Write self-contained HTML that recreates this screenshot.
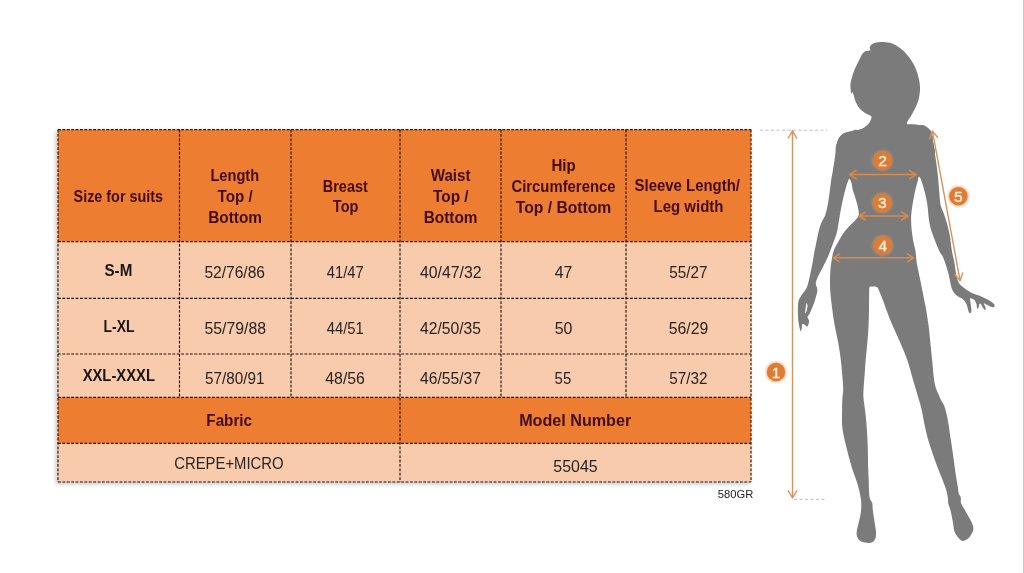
<!DOCTYPE html>
<html><head><meta charset="utf-8"><title>Size chart</title>
<style>html,body{margin:0;padding:0;background:#fff;}body{width:1024px;height:573px;overflow:hidden;}svg{display:block;}</style></head>
<body>
<svg width="1024" height="573" viewBox="0 0 1024 573">
<defs><filter id="sh" x="-5%" y="-5%" width="110%" height="110%"><feGaussianBlur stdDeviation="2.2"/></filter><filter id="gl" x="-50%" y="-50%" width="200%" height="200%"><feGaussianBlur stdDeviation="1.1"/></filter></defs>
<rect width="1024" height="573" fill="#ffffff"/>
<rect x="1023" y="0" width="1" height="573" fill="#c6c6c6"/>
<rect x="56" y="131" width="694" height="353" fill="#9a8f88" opacity="0.55" filter="url(#sh)"/>
<rect x="58.0" y="129.6" width="693.0" height="112.0" fill="#ED7D31"/>
<rect x="58.0" y="241.6" width="693.0" height="155.8" fill="#F8CBAD"/>
<rect x="58.0" y="397.4" width="693.0" height="46.0" fill="#ED7D31"/>
<rect x="58.0" y="443.4" width="693.0" height="38.6" fill="#F8CBAD"/>
<g stroke="#24140e" stroke-width="1.15" stroke-dasharray="2.8 1.6" fill="none">
<line x1="58.0" y1="129.6" x2="751.0" y2="129.6"/>
<line x1="58.0" y1="241.6" x2="751.0" y2="241.6"/>
<line x1="58.0" y1="298.4" x2="751.0" y2="298.4"/>
<line x1="58.0" y1="354.0" x2="751.0" y2="354.0"/>
<line x1="58.0" y1="397.4" x2="751.0" y2="397.4"/>
<line x1="58.0" y1="443.4" x2="751.0" y2="443.4"/>
<line x1="58.0" y1="482.0" x2="751.0" y2="482.0"/>
<line x1="58.0" y1="129.6" x2="58.0" y2="482.0"/>
<line x1="179.5" y1="129.6" x2="179.5" y2="397.4"/>
<line x1="291.0" y1="129.6" x2="291.0" y2="397.4"/>
<line x1="400.0" y1="129.6" x2="400.0" y2="482.0"/>
<line x1="501.0" y1="129.6" x2="501.0" y2="397.4"/>
<line x1="626.0" y1="129.6" x2="626.0" y2="397.4"/>
<line x1="751.0" y1="129.6" x2="751.0" y2="482.0"/>
</g>
<g font-family="'Liberation Sans', sans-serif" text-anchor="middle">
<text x="118.3" y="201.6" font-size="15.6" font-weight="700" fill="#420d19" textLength="89.5" lengthAdjust="spacingAndGlyphs">Size for suits</text>
<text x="234.8" y="180.9" font-size="15.6" font-weight="700" fill="#420d19" textLength="48.7" lengthAdjust="spacingAndGlyphs">Length</text>
<text x="235.1" y="202.0" font-size="15.6" font-weight="700" fill="#420d19" textLength="35.1" lengthAdjust="spacingAndGlyphs">Top /</text>
<text x="235.1" y="222.6" font-size="15.6" font-weight="700" fill="#420d19" textLength="53.9" lengthAdjust="spacingAndGlyphs">Bottom</text>
<text x="345.3" y="191.5" font-size="15.6" font-weight="700" fill="#420d19" textLength="45.0" lengthAdjust="spacingAndGlyphs">Breast</text>
<text x="345.6" y="212.1" font-size="15.6" font-weight="700" fill="#420d19" textLength="25.5" lengthAdjust="spacingAndGlyphs">Top</text>
<text x="450.6" y="180.9" font-size="15.6" font-weight="700" fill="#420d19" textLength="39.9" lengthAdjust="spacingAndGlyphs">Waist</text>
<text x="450.8" y="202.0" font-size="15.6" font-weight="700" fill="#420d19" textLength="35.6" lengthAdjust="spacingAndGlyphs">Top /</text>
<text x="450.6" y="222.6" font-size="15.6" font-weight="700" fill="#420d19" textLength="53.9" lengthAdjust="spacingAndGlyphs">Bottom</text>
<text x="563.6" y="171.0" font-size="15.6" font-weight="700" fill="#420d19" textLength="24.2" lengthAdjust="spacingAndGlyphs">Hip</text>
<text x="563.5" y="191.8" font-size="15.6" font-weight="700" fill="#420d19" textLength="104.1" lengthAdjust="spacingAndGlyphs">Circumference</text>
<text x="563.5" y="212.6" font-size="15.6" font-weight="700" fill="#420d19" textLength="95.5" lengthAdjust="spacingAndGlyphs">Top / Bottom</text>
<text x="687.3" y="191.2" font-size="15.6" font-weight="700" fill="#420d19" textLength="105.4" lengthAdjust="spacingAndGlyphs">Sleeve Length/</text>
<text x="688.5" y="211.9" font-size="15.6" font-weight="700" fill="#420d19" textLength="69.9" lengthAdjust="spacingAndGlyphs">Leg width</text>
<text x="229.2" y="425.6" font-size="15.6" font-weight="700" fill="#420d19" textLength="45.7" lengthAdjust="spacingAndGlyphs">Fabric</text>
<text x="575.2" y="425.6" font-size="15.6" font-weight="700" fill="#420d19" textLength="112.1" lengthAdjust="spacingAndGlyphs">Model Number</text>
<text x="118.4" y="275.8" font-size="16.5" font-weight="700" fill="#1c1514" textLength="27.8" lengthAdjust="spacingAndGlyphs">S-M</text>
<text x="119.0" y="332.0" font-size="16.5" font-weight="700" fill="#1c1514" textLength="30.9" lengthAdjust="spacingAndGlyphs">L-XL</text>
<text x="118.8" y="381.4" font-size="16.5" font-weight="700" fill="#1c1514" textLength="72.3" lengthAdjust="spacingAndGlyphs">XXL-XXXL</text>
<text x="234.7" y="278.0" font-size="15.6" fill="#2a2322" textLength="60.6" lengthAdjust="spacingAndGlyphs">52/76/86</text>
<text x="345.3" y="278.0" font-size="15.6" fill="#2a2322" textLength="36.9" lengthAdjust="spacingAndGlyphs">41/47</text>
<text x="450.8" y="278.0" font-size="15.6" fill="#2a2322" textLength="61.6" lengthAdjust="spacingAndGlyphs">40/47/32</text>
<text x="563.5" y="278.0" font-size="15.6" fill="#2a2322" textLength="17.7" lengthAdjust="spacingAndGlyphs">47</text>
<text x="688.4" y="278.0" font-size="15.6" fill="#2a2322" textLength="38.2" lengthAdjust="spacingAndGlyphs">55/27</text>
<text x="235.2" y="334.0" font-size="15.6" fill="#2a2322" textLength="61.6" lengthAdjust="spacingAndGlyphs">55/79/88</text>
<text x="345.3" y="334.0" font-size="15.6" fill="#2a2322" textLength="36.9" lengthAdjust="spacingAndGlyphs">44/51</text>
<text x="450.5" y="334.0" font-size="15.6" fill="#2a2322" textLength="61.0" lengthAdjust="spacingAndGlyphs">42/50/35</text>
<text x="563.5" y="334.0" font-size="15.6" fill="#2a2322" textLength="17.7" lengthAdjust="spacingAndGlyphs">50</text>
<text x="688.5" y="334.0" font-size="15.6" fill="#2a2322" textLength="39.6" lengthAdjust="spacingAndGlyphs">56/29</text>
<text x="234.7" y="383.5" font-size="15.6" fill="#2a2322" textLength="59.4" lengthAdjust="spacingAndGlyphs">57/80/91</text>
<text x="345.1" y="383.5" font-size="15.6" fill="#2a2322" textLength="39.7" lengthAdjust="spacingAndGlyphs">48/56</text>
<text x="450.5" y="383.5" font-size="15.6" fill="#2a2322" textLength="61.0" lengthAdjust="spacingAndGlyphs">46/55/37</text>
<text x="562.9" y="383.5" font-size="15.6" fill="#2a2322" textLength="16.6" lengthAdjust="spacingAndGlyphs">55</text>
<text x="688.4" y="383.5" font-size="15.6" fill="#2a2322" textLength="38.2" lengthAdjust="spacingAndGlyphs">57/32</text>
<text x="228.9" y="469.4" font-size="15.6" fill="#2a2322" textLength="109.4" lengthAdjust="spacingAndGlyphs">CREPE+MICRO</text>
<text x="575.5" y="472.0" font-size="15.6" fill="#2a2322" textLength="44.3" lengthAdjust="spacingAndGlyphs">55045</text>
<text x="735.6" y="498.4" font-size="11.3" fill="#222" textLength="35.5" lengthAdjust="spacingAndGlyphs">580GR</text>
</g>
<g fill="#7b7b7b">
<path d="M881.9,41.9 C884.3,41.9 887.3,42.1 889.8,42.8 C892.2,43.4 894.3,44.5 896.6,45.8 C898.9,47.1 901.3,48.8 903.4,50.7 C905.5,52.7 907.5,55.1 909.3,57.5 C911.1,59.9 912.8,62.5 914.2,65.3 C915.6,68.1 916.7,71.2 917.6,74.1 C918.5,77.0 919.2,80.2 919.6,82.9 C920.0,85.6 920.2,87.2 920.0,90.0 C919.8,92.8 919.4,96.5 918.6,99.6 C917.8,102.6 916.5,105.5 915.2,108.3 C913.9,111.1 912.2,113.7 910.8,116.2 C909.4,118.7 906.5,122.1 906.9,123.5 C907.3,124.9 910.8,124.1 913.1,124.4 C915.4,124.7 918.6,124.8 920.6,125.1 C922.6,125.4 923.6,125.4 925.0,126.0 C926.4,126.6 927.6,127.6 928.7,128.8 C929.8,130.0 931.1,131.1 931.8,133.2 C932.5,135.3 932.5,137.9 933.0,141.4 C933.5,144.9 935.5,149.6 935.0,154.0 C934.5,158.4 932.6,164.2 930.0,168.0 C927.4,171.8 921.1,174.6 919.1,176.6 C917.1,178.6 918.7,177.3 918.0,180.0 C917.3,182.7 915.8,188.0 914.8,192.6 C913.8,197.2 912.7,203.4 912.1,207.6 C911.5,211.8 911.2,213.9 911.1,217.7 C911.0,221.5 911.3,226.1 911.7,230.3 C912.1,234.5 913.0,239.4 913.6,242.8 C914.2,246.2 915.0,247.7 915.5,251.0 C916.0,254.3 916.1,258.6 916.7,262.6 C917.3,266.6 918.4,270.9 919.2,275.1 C920.1,279.3 920.9,283.5 921.8,287.7 C922.6,291.9 923.6,296.6 924.3,300.3 C925.0,304.0 925.5,305.6 926.2,310.0 C926.9,314.4 928.0,321.1 928.7,326.6 C929.4,332.1 929.8,337.7 930.4,343.2 C931.0,348.7 931.5,354.3 932.1,359.8 C932.7,365.3 933.2,372.0 933.7,376.4 C934.2,380.8 934.6,383.3 935.4,386.4 C936.2,389.4 937.8,392.4 938.7,394.7 C939.6,397.0 940.0,398.0 941.0,400.0 C942.0,402.0 943.4,403.3 944.5,406.6 C945.6,409.9 946.8,414.9 947.8,419.9 C948.8,424.9 949.5,431.0 950.3,436.5 C951.1,442.0 952.0,447.3 952.8,453.1 C953.6,458.9 954.6,466.6 955.3,471.4 C956.0,476.2 956.6,479.5 957.0,482.0 C957.4,484.5 957.5,484.7 957.8,486.6 C958.1,488.5 958.2,491.5 958.7,493.3 C959.2,495.1 960.4,495.8 960.8,497.4 C961.2,499.0 960.4,501.0 961.1,503.2 C961.9,505.4 963.8,507.9 965.3,510.7 C966.8,513.5 969.0,517.2 970.3,519.8 C971.6,522.4 972.7,524.5 973.1,526.5 C973.5,528.5 973.5,529.6 972.8,531.5 C972.0,533.4 970.3,536.5 968.6,538.1 C966.9,539.7 964.4,541.1 962.8,541.1 C961.1,541.1 960.1,539.7 958.7,538.1 C957.3,536.5 955.5,534.3 954.5,531.5 C953.5,528.7 953.5,525.1 952.8,521.5 C952.1,517.9 951.2,512.9 950.4,509.9 C949.6,506.8 948.6,505.1 948.2,503.2 C947.8,501.3 948.2,500.5 947.9,498.3 C947.6,496.1 947.1,493.1 946.2,490.0 C945.3,486.9 944.4,484.8 942.6,480.0 C940.8,475.2 937.7,467.8 935.4,461.4 C933.1,455.0 930.5,447.6 928.7,441.5 C926.9,435.4 925.8,430.4 924.6,424.9 C923.4,419.4 922.5,413.3 921.3,408.3 C920.1,403.3 919.0,400.3 917.5,395.0 C916.0,389.7 913.8,382.3 912.1,376.4 C910.4,370.5 909.1,365.3 907.2,359.8 C905.3,354.3 902.9,348.7 900.5,343.2 C898.1,337.7 895.4,332.1 893.0,326.6 C890.6,321.1 888.1,314.4 886.4,310.0 C884.7,305.6 884.1,303.1 883.0,300.3 C881.9,297.5 880.8,295.0 880.0,293.0 C879.2,291.0 878.7,289.2 878.0,288.2 C877.3,287.2 877.1,287.1 876.0,286.8 C874.9,286.5 872.6,286.5 871.5,286.6 C870.4,286.7 869.8,286.3 869.4,287.4 C869.0,288.5 869.3,289.2 869.2,293.0 C869.1,296.8 869.1,304.4 869.0,310.0 C868.9,315.6 868.8,321.1 868.5,326.6 C868.2,332.1 867.8,337.7 867.3,343.2 C866.8,348.7 866.2,354.3 865.7,359.8 C865.2,365.3 864.9,371.4 864.5,376.4 C864.1,381.4 863.7,386.1 863.5,389.7 C863.3,393.3 863.2,394.4 863.5,398.0 C863.8,401.6 864.7,406.6 865.2,411.6 C865.8,416.6 866.4,422.1 866.8,428.2 C867.2,434.3 867.6,441.7 867.8,448.1 C868.0,454.5 868.0,461.1 868.1,466.4 C868.2,471.7 868.6,476.1 868.7,480.0 C868.9,483.9 868.8,486.9 869.0,490.0 C869.2,493.1 869.2,496.1 869.8,498.3 C870.3,500.5 871.8,501.3 872.3,503.2 C872.8,505.1 872.4,506.8 872.8,509.9 C873.2,512.9 874.0,517.6 874.5,521.5 C875.0,525.4 876.1,530.1 876.1,533.1 C876.1,536.1 875.7,538.2 874.8,539.8 C873.9,541.4 872.6,542.3 870.7,542.7 C868.8,543.1 865.3,542.9 863.2,542.3 C861.1,541.7 859.3,540.4 858.2,538.9 C857.1,537.4 856.6,535.5 856.6,533.1 C856.6,530.8 857.5,528.1 858.2,524.8 C858.9,521.5 860.2,517.1 860.7,513.2 C861.2,509.3 861.5,505.5 861.2,501.6 C860.9,497.7 859.9,493.6 859.1,490.0 C858.3,486.4 857.5,483.9 856.2,480.0 C854.9,476.1 853.1,471.7 851.5,466.4 C849.9,461.1 848.1,454.5 846.6,448.1 C845.1,441.7 843.1,434.3 842.4,428.2 C841.6,422.1 842.1,416.6 842.1,411.6 C842.1,406.6 842.2,401.6 842.4,398.0 C842.6,394.4 843.2,393.3 843.2,389.7 C843.2,386.1 842.8,381.4 842.4,376.4 C842.0,371.4 841.5,365.3 840.8,359.8 C840.1,354.3 839.3,348.7 838.3,343.2 C837.3,337.7 835.9,332.0 834.9,326.6 C833.9,321.2 833.2,316.4 832.5,311.0 C831.8,305.6 830.9,298.9 830.5,294.0 C830.1,289.1 830.0,285.6 830.0,281.4 C830.0,277.2 830.1,272.8 830.5,268.8 C830.9,264.8 831.5,260.6 832.1,257.5 C832.7,254.4 833.1,252.4 834.0,250.0 C834.9,247.6 836.2,245.5 837.7,242.8 C839.2,240.1 840.9,236.7 842.8,234.0 C844.7,231.3 846.9,228.8 849.0,226.5 C851.1,224.2 853.7,222.0 855.3,220.2 C856.9,218.4 858.0,217.5 858.5,215.8 C859.0,214.1 858.9,212.8 858.5,210.2 C858.1,207.6 857.0,203.5 856.0,200.1 C855.0,196.7 853.8,193.3 852.8,190.0 C851.8,186.7 852.4,183.3 850.3,180.0 C848.2,176.7 842.4,175.0 840.0,170.0 C837.6,165.0 836.3,154.8 835.8,150.2 C835.3,145.6 836.5,144.9 837.1,142.7 C837.7,140.5 838.5,138.6 839.6,137.0 C840.8,135.4 842.2,134.1 844.0,133.2 C845.8,132.3 848.4,131.9 850.3,131.4 C852.2,130.9 853.4,131.0 855.6,130.4 C857.8,129.8 861.3,129.0 863.4,127.9 C865.5,126.8 867.1,125.3 868.3,124.0 C869.5,122.7 870.2,121.4 870.7,120.1 C871.2,118.8 872.1,117.3 871.2,116.2 C870.3,115.1 867.2,114.5 865.3,113.2 C863.3,111.9 861.1,110.2 859.5,108.3 C857.9,106.3 856.6,103.8 855.6,101.5 C854.6,99.2 854.1,96.3 853.6,94.7 C853.1,93.1 852.8,92.2 852.4,92.0 C852.0,91.8 851.6,94.2 851.3,93.8 C851.0,93.4 850.8,91.4 850.7,89.8 C850.6,88.2 850.2,86.5 850.5,84.0 C850.8,81.5 851.8,77.9 852.6,75.1 C853.5,72.3 854.5,69.8 855.6,67.3 C856.7,64.8 858.0,62.5 859.0,60.4 C860.0,58.3 860.9,56.1 861.9,54.6 C862.9,53.1 863.9,51.9 865.3,51.2 C866.7,50.5 869.5,50.8 870.2,50.2 C870.9,49.6 869.5,48.6 869.7,47.7 C869.9,46.8 870.3,45.6 871.2,44.8 C872.1,44.0 873.3,43.3 875.1,42.8 C876.9,42.3 879.5,41.9 881.9,41.9Z"/>
<path d="M856.5,129.5 C855.5,129.8 852.4,130.8 850.3,131.4 C848.2,132.0 845.8,132.3 844.0,133.2 C842.2,134.1 840.8,135.4 839.6,137.0 C838.5,138.6 837.7,140.5 837.1,142.7 C836.5,144.9 836.2,147.3 835.8,150.2 C835.4,153.1 835.0,157.0 834.5,160.3 C834.0,163.7 833.4,167.0 832.9,170.3 C832.4,173.6 831.8,176.3 831.2,180.0 C830.7,183.7 830.2,188.4 829.6,192.6 C829.0,196.8 828.4,201.3 827.7,205.1 C827.0,208.9 826.2,212.3 825.2,215.2 C824.2,218.1 822.5,219.8 821.4,222.7 C820.2,225.6 819.2,229.0 818.3,232.8 C817.4,236.6 816.4,242.3 815.8,245.3 C815.2,248.3 815.0,248.1 814.5,251.0 C814.0,253.9 813.3,258.6 812.6,262.6 C811.9,266.6 810.9,271.3 810.1,275.1 C809.3,278.9 808.4,282.7 807.6,285.2 C806.8,287.7 806.4,288.2 805.3,290.0 C804.2,291.8 802.2,294.1 801.0,296.1 C799.8,298.1 798.8,299.6 798.3,302.2 C797.8,304.8 797.9,308.7 797.9,311.8 C797.9,314.9 798.0,317.8 798.3,320.6 C798.6,323.4 799.3,326.7 799.7,328.4 C800.1,330.1 800.1,331.0 800.5,331.0 C800.9,331.0 801.5,329.5 801.8,328.4 C802.1,327.2 801.7,324.7 802.3,324.1 C802.9,323.5 804.5,324.5 805.3,324.9 C806.1,325.3 806.5,327.0 807.1,326.7 C807.7,326.4 808.5,324.3 808.8,323.2 C809.1,322.1 809.0,321.1 808.8,320.1 C808.6,319.1 807.4,318.2 807.5,317.1 C807.6,316.0 808.9,315.2 809.7,313.6 C810.5,312.0 811.4,309.7 812.3,307.5 C813.2,305.3 814.0,303.4 814.9,300.5 C815.8,297.6 817.2,293.0 817.4,290.2 C817.5,287.4 815.9,285.8 815.8,283.9 C815.7,282.0 816.1,281.2 817.0,278.9 C817.9,276.6 819.8,273.2 821.4,270.1 C823.0,267.0 824.9,263.2 826.4,260.0 C827.9,256.8 829.1,253.9 830.2,251.0 C831.4,248.1 832.2,245.6 833.3,242.8 C834.3,240.0 835.6,237.1 836.5,234.0 C837.4,230.9 837.8,227.6 838.4,224.0 C839.0,220.4 839.6,216.7 840.3,212.7 C841.0,208.7 842.0,203.9 842.8,200.1 C843.6,196.3 844.3,193.4 845.3,190.0 C846.3,186.6 846.5,184.7 848.6,179.7 C850.7,174.7 856.4,163.3 858.0,160.0Z"/>
<path d="M913.1,124.4 C914.4,124.5 918.6,124.8 920.6,125.1 C922.6,125.4 923.6,125.4 925.0,126.0 C926.4,126.6 927.6,127.6 928.7,128.8 C929.8,130.0 931.1,131.1 931.8,133.2 C932.5,135.3 932.5,137.9 933.0,141.4 C933.5,144.9 934.4,149.8 935.0,154.0 C935.6,158.2 936.2,162.2 936.8,166.5 C937.3,170.8 937.9,175.7 938.3,180.0 C938.7,184.3 938.9,188.4 939.3,192.6 C939.7,196.8 939.8,201.3 940.6,205.1 C941.5,208.9 943.2,211.8 944.4,215.2 C945.5,218.5 946.6,221.6 947.5,225.2 C948.4,228.8 949.3,232.2 950.0,236.5 C950.7,240.8 951.2,246.7 951.9,251.0 C952.6,255.3 953.7,258.6 954.4,262.6 C955.1,266.6 955.6,271.8 956.3,275.1 C957.0,278.5 957.5,280.6 958.8,282.7 C960.0,284.8 961.7,286.0 963.8,287.7 C965.9,289.4 968.5,291.2 971.4,292.7 C974.3,294.2 978.5,295.2 981.4,296.5 C984.3,297.8 986.9,299.1 989.0,300.3 C991.1,301.6 993.1,303.1 994.0,304.0 C994.9,304.9 994.8,305.4 994.6,305.9 C994.4,306.4 993.9,307.3 992.7,307.2 C991.6,307.1 989.2,305.9 987.7,305.3 C986.2,304.7 984.2,302.9 983.9,303.4 C983.6,303.9 985.6,307.3 985.8,308.4 C986.0,309.4 985.6,309.7 985.2,309.7 C984.8,309.7 984.0,309.3 983.3,308.4 C982.6,307.4 981.4,304.7 980.8,304.0 C980.2,303.3 979.9,303.3 979.5,304.0 C979.1,304.7 978.7,307.7 978.3,308.4 C977.9,309.1 977.3,308.7 977.0,308.0 C976.7,307.3 976.9,305.4 976.4,304.0 C975.9,302.6 974.9,300.5 973.9,299.6 C972.9,298.7 970.6,297.7 970.1,298.4 C969.6,299.1 970.5,301.9 970.7,304.0 C970.9,306.1 971.5,309.4 971.4,310.9 C971.3,312.4 970.6,313.1 970.1,313.2 C969.6,313.3 969.2,313.1 968.6,311.6 C968.0,310.1 967.4,306.1 966.4,304.0 C965.4,301.9 964.3,300.5 962.6,299.0 C960.9,297.5 958.0,296.7 956.3,295.2 C954.6,293.7 953.5,292.1 952.5,290.2 C951.5,288.3 951.2,286.4 950.6,283.9 C950.0,281.4 949.5,278.0 948.8,275.1 C948.1,272.2 947.2,269.2 946.3,266.3 C945.3,263.4 944.3,260.1 943.1,257.5 C941.9,254.9 940.7,253.9 939.3,251.0 C937.9,248.1 936.4,244.2 934.9,240.3 C933.4,236.4 931.5,231.5 930.5,227.7 C929.5,223.9 929.2,221.5 928.7,217.7 C928.2,213.9 928.0,209.2 927.4,205.0 C926.8,200.8 925.9,196.8 924.9,192.6 C923.9,188.4 922.1,182.7 921.1,180.0 C920.1,177.3 921.3,179.9 919.1,176.6 C916.9,173.3 909.9,162.8 908.0,160.0Z"/>
<path d="M806.6,303.1 C806.3,303.7 805.7,307.4 805.5,309.2 C805.3,310.9 805.1,313.3 805.3,313.6 C805.5,313.9 806.2,312.3 806.6,311.0 C807.0,309.7 807.5,307.0 807.5,305.7 C807.5,304.4 806.9,302.5 806.6,303.1Z" fill="#fff"/>
</g>
<g stroke="#bdbdbd" stroke-width="1" stroke-dasharray="3 2.5">
<line x1="760.0" y1="130.2" x2="827.0" y2="130.2"/>
<line x1="794.0" y1="499.3" x2="826.0" y2="499.3"/>
</g>
<path d="M792.5,130.8 L792.5,498.0 M788.3,138.0 L792.5,130.8 L796.7,138.0 M788.3,490.8 L792.5,498.0 L796.7,490.8" fill="none" stroke="#d3945f" stroke-width="1.4" stroke-linecap="round" stroke-linejoin="round"/>
<path d="M849.6,174.6 L916.2,174.6 M856.0,178.6 L849.6,174.6 L856.0,170.6 M909.8,178.6 L916.2,174.6 L909.8,170.6" fill="none" stroke="#d98a4a" stroke-width="1.5" stroke-linecap="round" stroke-linejoin="round"/>
<path d="M859.0,216.0 L908.2,216.0 M865.4,220.0 L859.0,216.0 L865.4,212.0 M901.8,220.0 L908.2,216.0 L901.8,212.0" fill="none" stroke="#d98a4a" stroke-width="1.5" stroke-linecap="round" stroke-linejoin="round"/>
<path d="M833.3,257.8 L913.7,257.8 M839.7,261.8 L833.3,257.8 L839.7,253.8 M907.3,261.8 L913.7,257.8 L907.3,253.8" fill="none" stroke="#d98a4a" stroke-width="1.5" stroke-linecap="round" stroke-linejoin="round"/>
<path d="M932.4,130.9 L960.1,280.8 M929.8,138.7 L932.4,130.9 L937.6,137.3 M954.9,274.4 L960.1,280.8 L962.7,273.0" fill="none" stroke="#d3945f" stroke-width="1.4" stroke-linecap="round" stroke-linejoin="round"/>
<circle cx="776.0" cy="372.0" r="10.5" fill="#e39a5e" opacity="0.55" filter="url(#gl)"/>
<circle cx="776.0" cy="372.0" r="9.2" fill="#de7c36"/>
<text x="776.0" y="377.5" font-family="'Liberation Sans', sans-serif" font-size="15.5" text-anchor="middle" fill="#fdebd3" stroke="#fdebd3" stroke-width="0.45">1</text>
<circle cx="882.5" cy="160.4" r="10.5" fill="#e39a5e" opacity="0.55" filter="url(#gl)"/>
<circle cx="882.5" cy="160.4" r="9.2" fill="#de7c36"/>
<text x="882.5" y="165.9" font-family="'Liberation Sans', sans-serif" font-size="15.5" text-anchor="middle" fill="#fdebd3" stroke="#fdebd3" stroke-width="0.45">2</text>
<circle cx="882.3" cy="202.9" r="10.5" fill="#e39a5e" opacity="0.55" filter="url(#gl)"/>
<circle cx="882.3" cy="202.9" r="9.2" fill="#de7c36"/>
<text x="882.3" y="208.4" font-family="'Liberation Sans', sans-serif" font-size="15.5" text-anchor="middle" fill="#fdebd3" stroke="#fdebd3" stroke-width="0.45">3</text>
<circle cx="882.8" cy="245.4" r="10.5" fill="#e39a5e" opacity="0.55" filter="url(#gl)"/>
<circle cx="882.8" cy="245.4" r="9.2" fill="#de7c36"/>
<text x="882.8" y="250.9" font-family="'Liberation Sans', sans-serif" font-size="15.5" text-anchor="middle" fill="#fdebd3" stroke="#fdebd3" stroke-width="0.45">4</text>
<circle cx="958.4" cy="196.2" r="10.5" fill="#e39a5e" opacity="0.55" filter="url(#gl)"/>
<circle cx="958.4" cy="196.2" r="9.2" fill="#de7c36"/>
<text x="958.4" y="201.7" font-family="'Liberation Sans', sans-serif" font-size="15.5" text-anchor="middle" fill="#fdebd3" stroke="#fdebd3" stroke-width="0.45">5</text>
</svg>
</body></html>
